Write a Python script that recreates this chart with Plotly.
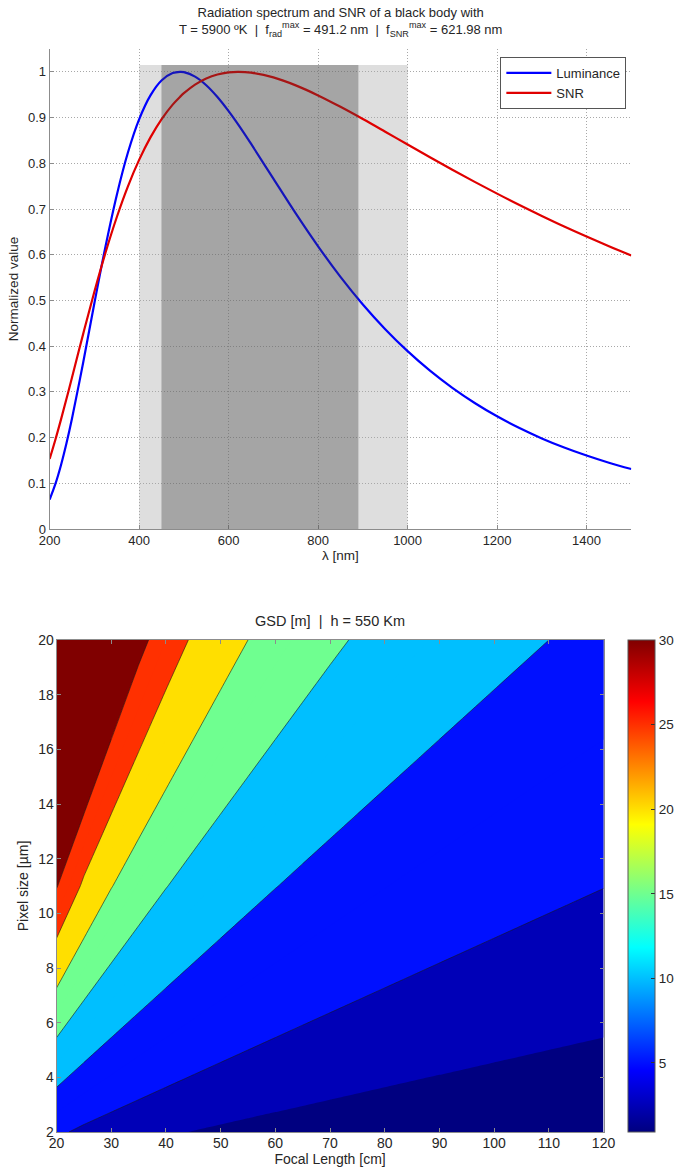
import plotly.graph_objects as go

# ---------------- data: top chart ----------------
wavelength_nm = [200, 212.5, 225, 237.5, 250, 275, 300, 325, 350, 375, 400, 425, 450, 475, 491.2, 500,
                 525, 550, 575, 600, 621.98, 650, 700, 750, 800, 850, 900, 950, 1000,
                 1050, 1100, 1150, 1200, 1250, 1300, 1350, 1400, 1450, 1500]
luminance = [0.0644, 0.0974, 0.1385, 0.1870, 0.2418, 0.3644, 0.4939, 0.6187, 0.7303, 0.8235, 0.8961, 0.9481,
             0.9812, 0.9973, 1.0, 0.9993, 0.9896, 0.9708, 0.9450, 0.9141, 0.8840, 0.8428,
             0.7664, 0.6903, 0.6183, 0.5516, 0.4912, 0.4371, 0.3890, 0.3464, 0.3088, 0.2757,
             0.2465, 0.2209, 0.1982, 0.1783, 0.1607, 0.1450, 0.1312]
snr = [0.1531, 0.1941, 0.2381, 0.2842, 0.3316, 0.4269, 0.5191, 0.6048, 0.6819, 0.7495, 0.8074, 0.8561,
       0.8961, 0.9283, 0.9452, 0.9533, 0.9721, 0.9855, 0.9942, 0.9988, 1.0, 0.9982,
       0.9878, 0.9704, 0.9485, 0.9235, 0.8968, 0.8691, 0.8411, 0.8133, 0.7860, 0.7594,
       0.7336, 0.7086, 0.6847, 0.6616, 0.6396, 0.6185, 0.5983]
band_outer_nm = [400, 1000]
band_inner_nm = [450, 890]
band_top = 1.015
x_ticks_top = [200, 400, 600, 800, 1000, 1200, 1400]

# ---------------- data: bottom chart ----------------
focal_cm = [20, 25, 30, 35, 40, 45, 50, 55, 60, 65, 70, 75, 80, 85, 90, 95, 100, 105, 110, 115, 120]
pixel_um = [2, 11, 20]
gsd_m = [
    [5.500, 4.400, 3.667, 3.143, 2.750, 2.444, 2.200, 2.000, 1.833, 1.692, 1.571,
     1.467, 1.375, 1.294, 1.222, 1.158, 1.100, 1.048, 1.000, 0.957, 0.917],
    [30.250, 24.200, 20.167, 17.286, 15.125, 13.444, 12.100, 11.000, 10.083, 9.308, 8.643,
     8.067, 7.563, 7.118, 6.722, 6.368, 6.050, 5.762, 5.500, 5.261, 5.042],
    [55.000, 44.000, 36.667, 31.429, 27.500, 24.444, 22.000, 20.000, 18.333, 16.923, 15.714,
     14.667, 13.750, 12.941, 12.222, 11.579, 11.000, 10.476, 10.000, 9.565, 9.167],
]
gsd_levels = [2.5, 5, 10, 15, 20, 25, 30]
color_range = [0.92, 30]
colorbar_ticks = [5, 10, 15, 20, 25, 30]

# ---------------- helpers ----------------
W, H = 679, 1170
FONT = "Liberation Sans, Arial, sans-serif"
TXT = "#262626"
AX = "#8c8c8c"


def jet(t):
    t = min(max(t, 0.0), 1.0)
    r = min(max(1.5 - abs(4 * t - 3), 0), 1)
    g = min(max(1.5 - abs(4 * t - 2), 0), 1)
    b = min(max(1.5 - abs(4 * t - 1), 0), 1)
    return "rgb(%d,%d,%d)" % (round(r * 255), round(g * 255), round(b * 255))


def band_color(v):
    cmin, cmax = color_range
    if v < gsd_levels[0]:
        return jet(0)
    lower = max(l for l in gsd_levels if l <= v)
    if lower >= cmax:
        return jet(1)
    return jet((lower - cmin) / (cmax - cmin))


step = 2.5
start, end = gsd_levels[0], gsd_levels[-1]
n_lv = int(round((end - start) / step)) + 1
n_bands = n_lv + 1
fill_scale = []
for k in range(n_bands):
    center = start - step / 2 + k * step
    c = band_color(center)
    lo = max(0.0, (k - 0.5) / (n_bands - 1))
    hi = min(1.0, (k + 0.5) / (n_bands - 1))
    fill_scale.append([lo, c])
    fill_scale.append([hi, c])

jet_scale = [[s, jet(s)] for s in [0, 0.125, 0.375, 0.625, 0.875, 1]]


def px_x(p):
    return p / W


def px_y(p):
    return 1 - p / H


fig = go.Figure()

# ---------------- top chart ----------------
fig.add_trace(go.Scatter(x=wavelength_nm, y=luminance, mode="lines", name="Luminance",
                         line=dict(color="#0000ff", width=2.2, shape="spline", smoothing=1.0),
                         xaxis="x", yaxis="y"))
fig.add_trace(go.Scatter(x=wavelength_nm, y=snr, mode="lines", name="SNR",
                         line=dict(color="#e00000", width=2.2, shape="spline", smoothing=1.0),
                         xaxis="x", yaxis="y"))

shapes = [
    dict(type="rect", xref="x", yref="y", x0=band_outer_nm[0], x1=band_outer_nm[1],
         y0=0, y1=band_top, fillcolor="#dedede", line=dict(width=0), layer="below"),
    dict(type="rect", xref="x", yref="y", x0=band_inner_nm[0], x1=band_inner_nm[1],
         y0=0, y1=band_top, fillcolor="rgba(60,60,60,0.35)", line=dict(width=0), layer="above"),
]

# ---------------- bottom chart ----------------
fig.add_trace(go.Contour(x=focal_cm, y=pixel_um, z=gsd_m, xaxis="x2", yaxis="y2",
                         autocontour=False, showlegend=False,
                         contours=dict(start=start, end=end, size=step, coloring="fill",
                                       showlines=False),
                         colorscale=fill_scale, showscale=False,
                         line=dict(smoothing=0, width=0), hoverinfo="skip"))
fig.add_trace(go.Contour(x=focal_cm, y=pixel_um, z=gsd_m, xaxis="x2", yaxis="y2",
                         autocontour=False, showlegend=False,
                         contours=dict(start=5, end=30, size=5, coloring="none", showlines=True),
                         line=dict(color="#1a1a1a", width=0.6, smoothing=0),
                         showscale=False, hoverinfo="skip"))
fig.add_trace(go.Scatter(x=[focal_cm[0], focal_cm[0]], y=[pixel_um[0], pixel_um[0]],
                         mode="markers", xaxis="x2", yaxis="y2", showlegend=False,
                         hoverinfo="skip",
                         marker=dict(size=1, opacity=0, color=color_range, cmin=color_range[0],
                                     cmax=color_range[1], colorscale=jet_scale, showscale=True,
                                     colorbar=dict(x=px_x(633), xanchor="left", y=px_y(886),
                                                   yanchor="middle", len=492, lenmode="pixels",
                                                   thickness=27, thicknessmode="pixels",
                                                   outlinecolor="#555", outlinewidth=1,
                                                   tickvals=colorbar_ticks, ticks="inside",
                                                   ticklen=4, tickcolor="#333",
                                                   tickfont=dict(size=13.5, color=TXT, family=FONT),
                                                   xpad=0, ypad=0))))

GRID = dict(showgrid=True, gridcolor="#a8a8a8", griddash="1px,2px", gridwidth=1)


def axis_common(fs, so):
    return dict(showline=True, linecolor=AX, linewidth=1, ticks="inside", ticklen=4,
                tickcolor=AX, tickfont=dict(size=fs, color=TXT, family=FONT),
                zeroline=False, automargin=False, ticklabelstandoff=so)


fig.update_layout(
    width=W, height=H,
    margin=dict(l=0, r=0, t=0, b=0),
    paper_bgcolor="white", plot_bgcolor="white",
    font=dict(family=FONT, color=TXT, size=12),
    shapes=shapes,
    showlegend=True,
    legend=dict(x=px_x(631), xanchor="right", y=px_y(57), yanchor="top",
                bgcolor="white", bordercolor="#555", borderwidth=1, itemwidth=45,
                font=dict(size=13, color=TXT, family=FONT), tracegroupgap=0),
    xaxis=dict(domain=[px_x(50), px_x(636)], range=[200, 1500], tickvals=x_ticks_top,
               title=dict(text="λ [nm]", font=dict(size=13.5, family=FONT, color=TXT), standoff=0),
               anchor="y", **GRID, **axis_common(13, -1)),
    yaxis=dict(domain=[px_y(529), px_y(49)], range=[0, 1.05], tick0=0, dtick=0.1,
               title=dict(text="Normalized value", font=dict(size=13.5, family=FONT, color=TXT),
                          standoff=6),
               anchor="x", **GRID, **axis_common(13, 0)),
    xaxis2=dict(domain=[px_x(57), px_x(608)], range=[20, 120], dtick=10, mirror="ticks",
                showgrid=False,
                title=dict(text="Focal Length [cm]", font=dict(size=14, family=FONT, color=TXT),
                           standoff=0),
                anchor="y2", **axis_common(14, -2)),
    yaxis2=dict(domain=[px_y(1132), px_y(640)], range=[2, 20], dtick=2, mirror="ticks",
                showgrid=False,
                title=dict(text="Pixel size [µm]", font=dict(size=14, family=FONT, color=TXT),
                           standoff=6),
                anchor="x2", **axis_common(14, -1)),
    annotations=[
        dict(text="Radiation spectrum and SNR of a black body with<br>"
                  "T = 5900 ºK  |  f<sub>rad</sub><sup>max</sup> = 491.2 nm  |  "
                  "f<sub>SNR</sub><sup>max</sup> = 621.98 nm",
             xref="paper", yref="paper", x=px_x(343), y=px_y(3), xanchor="center",
             yanchor="top", showarrow=False, font=dict(size=13, family=FONT, color=TXT)),
        dict(text="GSD [m]  |  h = 550 Km", xref="paper", yref="paper", x=px_x(332),
             y=px_y(631), xanchor="center", yanchor="bottom", showarrow=False,
             font=dict(size=14.5, family=FONT, color=TXT)),
    ],
)

fig.write_html("out.html", config={"displayModeBar": False},
               post_script="document.body.style.margin='0';document.body.style.overflow='hidden';")
